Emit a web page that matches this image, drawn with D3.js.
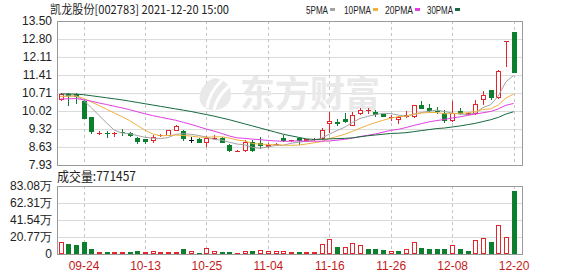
<!DOCTYPE html>
<html>
<head>
<meta charset="utf-8">
<script src="https://cdn.jsdelivr.net/npm/d3@7"></script>
<style>
  body { margin: 0; background: #fff; }
  svg text { font-family: "Liberation Sans", Arial, sans-serif; }
</style>
</head>
<body>
<svg id="chart" width="578" height="276"></svg>
<script>
// Trading days shown (2021-09-17 .. 2021-12-20)
const dates = ['09-17','09-22','09-23','09-24','09-27','09-28','09-29','09-30','10-08','10-11',
  '10-12','10-13','10-14','10-15','10-18','10-19','10-20','10-21','10-22','10-25',
  '10-26','10-27','10-28','10-29','11-01','11-02','11-03','11-04','11-05','11-08',
  '11-09','11-10','11-11','11-12','11-15','11-16','11-17','11-18','11-19','11-22',
  '11-23','11-24','11-25','11-26','11-29','11-30','12-01','12-02','12-03','12-06',
  '12-07','12-08','12-09','12-10','12-13','12-14','12-15','12-16','12-17','12-20'];

const open = [10.44,10.67,10.68,10.41,9.78,9.12,9.18,9.13,9.19,9.18,
  8.99,8.92,8.85,9.05,9.06,9.26,9.25,8.90,8.92,8.80,
  8.93,8.99,8.72,8.46,8.47,8.81,8.77,8.62,8.69,8.99,
  8.84,8.96,8.85,8.88,8.93,9.50,9.58,9.70,9.45,9.92,
  10.00,9.97,9.89,9.73,9.68,9.78,9.78,10.24,10.15,10.03,
  9.95,9.62,10.02,9.88,9.90,10.44,10.83,10.53,12.74,13.07];
const high = [10.72,10.70,10.72,10.44,9.80,9.26,9.26,9.22,9.32,9.20,
  9.03,8.95,9.08,9.14,9.28,9.47,9.28,9.02,8.97,9.07,
  9.08,9.02,8.75,8.52,8.90,8.88,9.02,8.78,8.78,9.09,
  8.90,8.99,8.95,8.98,9.35,9.97,9.70,9.96,9.97,10.15,
  10.12,10.05,9.90,9.88,9.82,10.00,10.26,10.42,10.28,10.18,
  10.06,10.41,10.12,9.98,10.44,10.79,10.85,11.60,12.74,13.07];
const low = [10.40,10.22,10.29,9.70,9.13,9.10,8.96,9.00,9.05,9.00,
  8.75,8.76,8.80,9.02,9.04,9.23,8.87,8.77,8.79,8.64,
  8.90,8.77,8.44,8.42,8.42,8.44,8.55,8.58,8.66,8.83,
  8.82,8.72,8.82,8.85,8.90,9.15,9.45,9.57,9.42,9.88,
  9.92,9.78,9.78,9.62,9.52,9.76,9.74,10.09,9.97,9.90,
  9.55,9.58,9.85,9.85,9.87,10.26,10.45,10.48,11.72,11.47];
const close = [10.67,10.60,10.55,9.72,9.20,9.18,9.15,9.17,9.16,9.05,
  8.81,8.81,9.00,9.08,9.27,9.44,8.93,8.90,8.80,8.99,
  8.98,8.79,8.47,8.47,8.83,8.47,8.68,8.70,8.76,8.84,
  8.88,8.85,8.92,8.94,9.28,9.63,9.52,9.58,9.85,10.07,
  10.04,9.87,9.80,9.80,9.80,9.85,10.24,10.11,10.03,10.01,
  9.62,9.95,9.90,9.95,10.30,10.64,10.52,11.57,12.74,11.47];

// moving averages as shown on the chart
const ma5 = [10.58,10.60,10.60,10.43,10.15,9.85,9.56,9.28,9.17,9.14,
  9.07,9.00,8.97,8.95,8.99,9.12,9.14,9.12,9.07,9.01,
  8.92,8.89,8.81,8.74,8.71,8.61,8.58,8.63,8.69,8.69,
  8.77,8.81,8.85,8.89,8.97,9.12,9.26,9.39,9.57,9.73,
  9.81,9.88,9.93,9.92,9.86,9.82,9.90,9.96,10.01,10.05,
  10.00,9.94,9.90,9.89,9.94,10.15,10.26,10.60,11.15,11.39];
const ma10 = [10.58,10.59,10.60,10.51,10.37,10.23,10.09,9.94,9.80,9.65,
  9.46,9.28,9.13,9.06,9.07,9.09,9.07,9.05,9.01,9.00,
  9.02,9.02,8.97,8.90,8.86,8.76,8.74,8.72,8.71,8.70,
  8.69,8.70,8.74,8.79,8.83,8.95,9.03,9.12,9.23,9.35,
  9.47,9.57,9.66,9.74,9.80,9.82,9.89,9.94,9.96,9.96,
  9.91,9.92,9.93,9.95,10.00,10.08,10.10,10.25,10.52,10.67];
const ma20 = [10.48,10.49,10.50,10.46,10.40,10.33,10.27,10.20,10.14,10.07,
  9.99,9.91,9.84,9.78,9.72,9.66,9.58,9.50,9.41,9.32,
  9.24,9.15,9.05,8.98,8.96,8.93,8.91,8.88,8.86,8.85,
  8.85,8.86,8.85,8.85,8.85,8.86,8.89,8.92,8.97,9.03,
  9.08,9.13,9.20,9.27,9.31,9.38,9.46,9.53,9.60,9.65,
  9.69,9.75,9.79,9.85,9.90,9.95,10.00,10.10,10.24,10.31];
const ma30 = [10.68,10.68,10.67,10.65,10.61,10.57,10.53,10.49,10.45,10.40,
  10.35,10.30,10.25,10.20,10.15,10.10,10.05,10.00,9.94,9.88,
  9.82,9.75,9.68,9.60,9.52,9.44,9.36,9.28,9.20,9.12,
  9.06,9.00,8.94,8.92,8.92,8.94,8.95,8.96,8.98,9.02,
  9.06,9.09,9.12,9.15,9.16,9.18,9.22,9.26,9.30,9.34,
  9.36,9.40,9.44,9.49,9.54,9.61,9.68,9.77,9.90,9.99];

const volume = [151000,122000,110000,147000,61000,24000,25000,24000,23000,28000,
  40000,28000,37000,20000,24000,24000,61000,40000,16000,69000,
  37000,24000,24000,16000,40000,37000,45000,40000,33000,37000,
  20000,30000,25000,20000,122000,183000,82000,82000,130000,110000,
  61000,61000,50000,40000,35000,61000,150000,70000,65000,65000,
  65000,110000,61000,40000,170000,190000,150000,355000,204000,771457];
// 1 = red (up) volume bar, 0 = green
const volUp = [1,0,0,0,0,1,0,1,1,0, 0,1,1,1,1,1,0,1,0,1,
  1,0,0,1,1,0,1,1,1,1, 1,0,1,1,1,1,0,1,1,1,
  0,0,0,1,0,1,1,0,0,0, 0,1,0,0,1,1,0,1,1,0];

const priceTicks = [7.93, 8.63, 9.32, 10.02, 10.71, 11.41, 12.11, 12.80, 13.50];
const volTicks = [0, 207700, 415400, 623100, 830800];
const volTickLabels = ['0', '20.77万', '41.54万', '62.31万', '83.08万'];
const dateTicks = ['09-24','10-13','10-25','11-04','11-16','11-26','12-08','12-20'];

const maSeries = [
  { name: '5PMA', values: ma5, color: '#a3a3a3' },
  { name: '10PMA', values: ma10, color: '#efb23f' },
  { name: '20PMA', values: ma20, color: '#e23ee2' },
  { name: '30PMA', values: ma30, color: '#17683f' }
];

// Layout
const left = 57, right = 522;
const pTop = 21, pBot = 165;
const vTop = 186, vBot = 254;
const RED = '#e2262c', GREEN = '#0b7f2e', BLACK = '#111';

const svg = d3.select('#chart');

const x = d3.scalePoint().domain(dates).range([60.5, 513.6]);
const y = d3.scaleLinear().domain([7.93, 13.50]).range([pBot, pTop]);
const yv = d3.scaleLinear().domain([0, 830800]).range([vBot, vTop]);
const cxOf = d => Math.round(x(d));

// Horizontal grid + y labels (price)
const priceAxis = svg.append('g')
  .attr('transform', `translate(${left},0)`)
  .call(d3.axisLeft(y).tickValues(priceTicks).tickFormat(d3.format('.2f'))
    .tickSize(-(right - left)).tickPadding(5));
priceAxis.select('.domain').remove();
priceAxis.selectAll('line').attr('stroke', '#dadada');
priceAxis.selectAll('text').attr('fill', '#222').style('font-size', '12px');

const volAxis = svg.append('g')
  .attr('transform', `translate(${left},0)`)
  .call(d3.axisLeft(yv).tickValues(volTicks).tickFormat((d, i) => volTickLabels[i])
    .tickSize(-(right - left)).tickPadding(5));
volAxis.select('.domain').remove();
volAxis.selectAll('line').attr('stroke', '#dadada');
volAxis.selectAll('text').attr('fill', '#222').style('font-size', '12px');

// Vertical dashed grid at date ticks
const vgrid = svg.append('g');
[[pTop, pBot], [vTop, vBot]].forEach(([t, b]) => {
  vgrid.selectAll(null)
    .data(dateTicks)
    .enter()
    .append('line')
    .attr('x1', d => cxOf(d) + 0.5)
    .attr('x2', d => cxOf(d) + 0.5)
    .attr('y1', t)
    .attr('y2', b)
    .attr('stroke', '#c4c4c4')
    .attr('stroke-dasharray', '3,3');
});

// Date labels
const xAxis = svg.append('g')
  .attr('transform', `translate(0,${vBot})`)
  .call(d3.axisBottom(x).tickValues(dateTicks).tickSize(0).tickPadding(7));
xAxis.select('.domain').remove();
xAxis.selectAll('text').attr('fill', '#c41a1a').style('font-size', '12px');

// Watermark
const wm = svg.append('g').attr('opacity', 1);
wm.append('path')
  .attr('d', 'M214,78 C204,82 198,92 200,101 C202,108 209,111 216,110 C226,109 232,101 231,92 C230,85 224,79 214,78 Z')
  .attr('fill', '#e9e9e9');
wm.append('path')
  .attr('d', 'M222,80 C214,88 208,97 207,108 M229,86 C221,93 216,100 214,110')
  .attr('stroke', '#fff').attr('stroke-width', 3).attr('fill', 'none');
wm.append('text')
  .attr('x', 240)
  .attr('y', 107)
  .attr('textLength', 140)
  .attr('lengthAdjust', 'spacingAndGlyphs')
  .attr('fill', '#e9e9e9')
  .style('font-family', '"Noto Sans CJK SC", sans-serif')
  .style('font-weight', 'bold')
  .style('font-size', '36px')
  .text('东方财富');

// Clip MA lines to price panel
svg.append('clipPath').attr('id', 'pclip')
  .append('rect').attr('x', left).attr('y', pTop).attr('width', right - left).attr('height', pBot - pTop);

// Candles
const candles = dates.map((d, i) => ({
  d, o: open[i], h: high[i], l: low[i], c: close[i], prev: i ? close[i - 1] : open[i]
}));
function candleColor(k) {
  if (k.c > k.o) return RED;
  if (k.c < k.o) return GREEN;
  return k.c > k.prev ? RED : BLACK;
}

const cg = svg.append('g');
candles.forEach(k => {
  const cx = cxOf(k.d);
  const col = candleColor(k);
  const top = Math.round(y(Math.max(k.o, k.c)));
  const bot = Math.round(y(Math.min(k.o, k.c)));
  const yh = Math.round(y(k.h)), yl = Math.round(y(k.l));
  const g = cg.append('g');
  if (k.c > k.o && bot - top >= 2) {
    // hollow red body, wick outside the box only
    g.append('line').attr('x1', cx + 0.5).attr('x2', cx + 0.5).attr('y1', yh).attr('y2', top).attr('stroke', col);
    g.append('line').attr('x1', cx + 0.5).attr('x2', cx + 0.5).attr('y1', bot).attr('y2', yl).attr('stroke', col);
    g.append('rect')
      .attr('x', cx - 1.5).attr('y', top + 0.5)
      .attr('width', 4).attr('height', bot - top - 1)
      .attr('fill', '#fff').attr('stroke', col);
  } else {
    g.append('line').attr('x1', cx + 0.5).attr('x2', cx + 0.5).attr('y1', yh).attr('y2', yl).attr('stroke', col);
    if (bot - top >= 2) {
      g.append('rect')
        .attr('x', cx - 2).attr('y', top)
        .attr('width', 5).attr('height', bot - top)
        .attr('fill', col);
    } else {
      g.append('line')
        .attr('x1', cx - 2).attr('x2', cx + 3)
        .attr('y1', top + 0.5).attr('y2', top + 0.5)
        .attr('stroke', col);
    }
  }
});

// MA lines
const line = d3.line()
  .x((v, i) => x(dates[i]))
  .y(v => y(v));
svg.append('g').attr('clip-path', 'url(#pclip)')
  .selectAll('path')
  .data(maSeries)
  .enter()
  .append('path')
  .attr('d', s => line(s.values))
  .attr('fill', 'none')
  .attr('stroke', s => s.color)
  .attr('stroke-width', 1);

// Volume bars
const vg = svg.append('g');
volume.forEach((v, i) => {
  const cx = cxOf(dates[i]);
  const top = Math.round(yv(v));
  if (volUp[i]) {
    vg.append('rect')
      .attr('x', cx - 1.5).attr('y', top + 0.5)
      .attr('width', 4).attr('height', Math.max(vBot - top - 1, 1))
      .attr('fill', '#fff').attr('stroke', RED);
  } else {
    vg.append('rect')
      .attr('x', cx - 2).attr('y', top)
      .attr('width', 5).attr('height', vBot - top)
      .attr('fill', GREEN);
  }
});

// Panel borders
[[pTop, pBot], [vTop, vBot]].forEach(([t, b]) => {
  svg.append('rect')
    .attr('x', left + 0.5).attr('y', t + 0.5)
    .attr('width', right - left).attr('height', b - t)
    .attr('fill', 'none').attr('stroke', '#9a9a9a');
});

// Title and legend
svg.append('text')
  .attr('x', 50).attr('y', 14)
  .attr('textLength', 179).attr('lengthAdjust', 'spacingAndGlyphs')
  .attr('fill', '#222')
  .style('font-family', '"Noto Sans CJK SC", sans-serif')
  .style('font-size', '12px')
  .text('凯龙股份[002783] 2021-12-20 15:00');

const legendX = [306, 344, 385, 427];
const legendW = [22, 27, 28, 26];
maSeries.forEach((s, i) => {
  svg.append('text')
    .attr('x', legendX[i]).attr('y', 14)
    .attr('textLength', legendW[i]).attr('lengthAdjust', 'spacingAndGlyphs')
    .attr('fill', '#222')
    .style('font-size', '11px')
    .text(s.name);
  svg.append('rect')
    .attr('x', legendX[i] + legendW[i] + 2).attr('y', 8)
    .attr('width', 5).attr('height', 3)
    .attr('fill', s.color);
});

svg.append('text')
  .attr('x', 57).attr('y', 181)
  .attr('textLength', 79).attr('lengthAdjust', 'spacingAndGlyphs')
  .attr('fill', '#222')
  .style('font-family', '"Noto Sans CJK SC", sans-serif')
  .style('font-size', '13px')
  .text('成交量:' + volume[volume.length - 1]);
</script>
</body>
</html>
